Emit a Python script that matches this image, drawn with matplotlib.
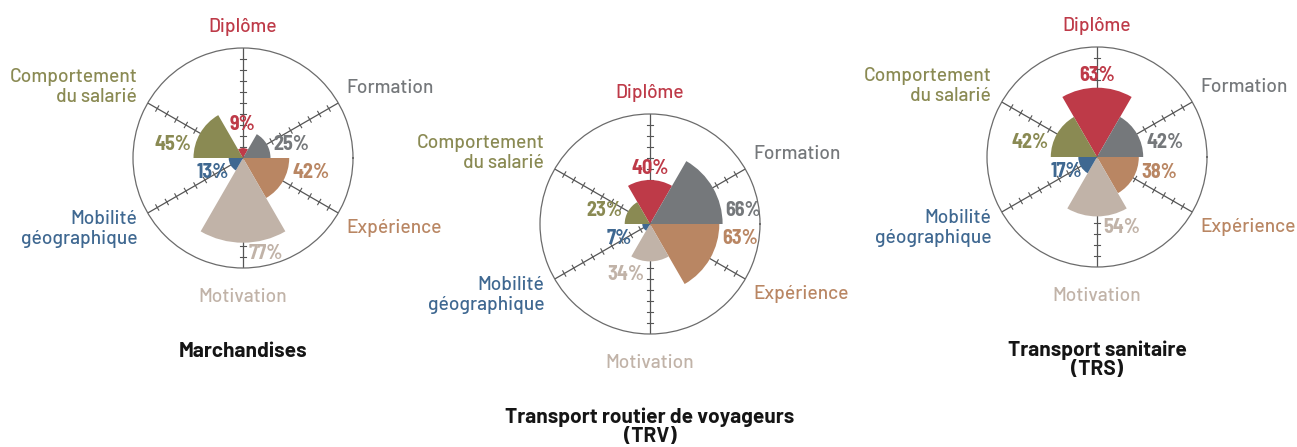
import numpy as np
import matplotlib
matplotlib.use("Agg")
import matplotlib.pyplot as plt

# Criteria, one petal each, clockwise from the top
categories = ["Diplôme", "Formation", "Expérience", "Motivation",
              "Mobilité\ngéographique", "Comportement\ndu salarié"]
colors = ["#BE3A48", "#75787B", "#B98663", "#C1B3A8", "#3F6891", "#8A8A53"]

# Share of employers citing each criterion (%)
marchandises = [9, 25, 42, 77, 13, 45]
voyageurs = [40, 66, 63, 34, 7, 23]
sanitaire = [63, 42, 38, 54, 17, 42]

titles = ["Marchandises",
          "Transport routier de voyageurs\n(TRV)",
          "Transport sanitaire\n(TRS)"]

# DIN-like faces, with plain fallbacks
label_font = ["Barlow", "Liberation Sans", "DejaVu Sans"]
value_font = ["Barlow Semi Condensed", "Liberation Sans", "DejaVu Sans"]
plt.rcParams["font.family"] = label_font

W, H = 1297, 447
R = 110  # radius of the outer ring in pixels
centers = [(243, 158), (650, 224), (1097, 157)]
datasets = [marchandises, voyageurs, sanitaire]

# petal directions (degrees, counter-clockwise from east)
angles = np.array([90, 30, -30, -90, 210, 150])
width = np.deg2rad(60)

# where the category names sit around the ring: (angle, radius, ha)
name_pos = [(90, 119, "center"), (34, 113.5, "left"), (-34, 113.5, "left"),
            (-90, 126, "center"), (214, 116, "right"), (146, 116, "right")]


def spoke_ticks(angle_deg, half=2.8):
    """Short strokes across a spoke every 10 %, as (theta, r) with NaN gaps."""
    a = np.deg2rad(angle_deg)
    th, rr = [], []
    for r in range(10, 100, 10):
        px, py = r * np.cos(a), r * np.sin(a)
        nx, ny = -np.sin(a) * half, np.cos(a) * half
        for sx, sy in ((px - nx, py - ny), (px + nx, py + ny)):
            th.append(np.arctan2(sy, sx))
            rr.append(np.hypot(sx, sy))
        th.append(np.nan)
        rr.append(np.nan)
    return th, rr


fig = plt.figure(figsize=(W / 100, H / 100), dpi=100)

for k, (values, (cx, cy), title) in enumerate(zip(datasets, centers, titles)):
    ax = fig.add_axes([(cx - R) / W, (H - cy - R) / H, 2 * R / W, 2 * R / H],
                      projection="polar")
    ax.set_facecolor("none")
    ax.set_ylim(0, 100)
    ax.set_xticks([])
    ax.set_yticks([])
    ax.grid(False)
    ax.spines["polar"].set_color("#6b6b6b")
    ax.spines["polar"].set_linewidth(0.9)

    for a in angles:
        th = np.deg2rad(a)
        ax.plot([th, th], [0, 100], color="#555555", lw=0.9, zorder=1)
        tt, tr = spoke_ticks(a)
        ax.plot(tt, tr, color="#555555", lw=0.8, zorder=1)

    ax.bar(np.deg2rad(angles), values, width=width, color=colors,
           linewidth=0, zorder=3)

    for (a, r, ha), name, c in zip(name_pos, categories, colors):
        ax.text(np.deg2rad(a), r, name, color=c, fontsize=13.8, ha=ha,
                fontweight="medium", va="center", multialignment=ha,
                linespacing=1.15)

    # value labels
    lab = dict(fontsize=14.5, fontweight="bold", family=value_font,
               textcoords="offset pixels", zorder=5, annotation_clip=False)
    d, f, e, m, mob, comp = values
    ax.annotate(f"{d}%", (np.pi / 2, max(d, 20)), (0, 12), color=colors[0],
                ha="center", va="center", **lab)
    ax.annotate(f"{f}%", (0, f), (3, 14), color=colors[1],
                ha="left", va="center", **lab)
    ax.annotate(f"{e}%", (0, e), (3, -15), color=colors[2],
                ha="left", va="center", **lab)
    if k == 1:
        ax.annotate(f"{m}%", (-np.pi / 2, m), (-6, -13), color=colors[3],
                    ha="right", va="center", **lab)
    else:
        ax.annotate(f"{m}%", (-np.pi / 2, m), (6, -11), color=colors[3],
                    ha="left", va="center", **lab)
    ax.annotate(f"{mob}%", (np.deg2rad(206), max(mob + 14, 31)), (0, 0),
                color=colors[4], ha="center", va="center", **lab)
    ax.annotate(f"{comp}%", (np.pi, comp), (-2, 14), color=colors[5],
                ha="right", va="center", **lab)

    ax.text(0.5, -0.335, title, transform=ax.transAxes, ha="center", va="top",
            fontsize=15, fontweight="bold", color="#151515", linespacing=1.0)

fig.savefig("out.png", dpi=100)
